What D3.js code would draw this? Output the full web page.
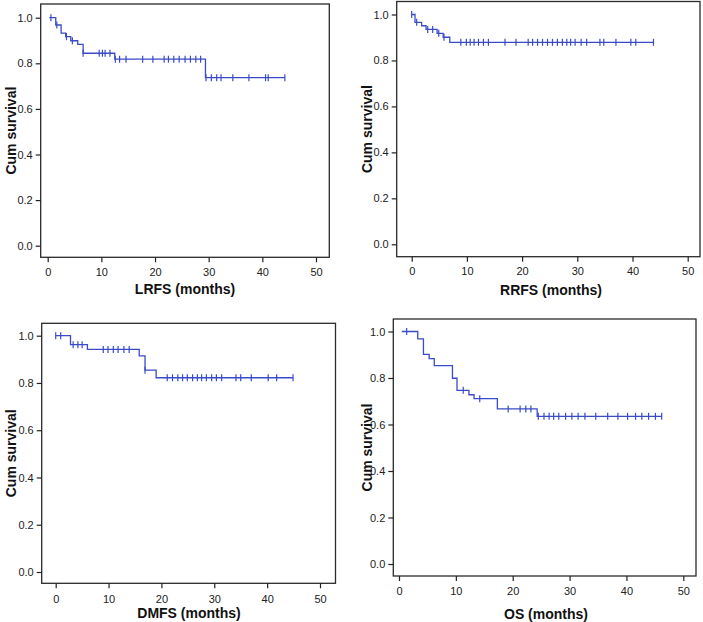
<!DOCTYPE html>
<html><head><meta charset="utf-8">
<script src="https://cdn.jsdelivr.net/npm/d3@7"></script>
<style>
body{margin:0;background:#fff;}
svg text{font-family:"Liberation Sans",Arial,sans-serif;}
</style></head>
<body><svg id="c" width="703" height="622"></svg>
<script>
// ---------- DATA ----------
const xTicks = [0, 10, 20, 30, 40, 50];
const yTicks = [0.0, 0.2, 0.4, 0.6, 0.8, 1.0];
const titles = ["LRFS (months)", "RRFS (months)", "DMFS (months)", "OS (months)"];
const yLabel = "Cum survival";

// step points: time at which the survival drops, and survival after the drop (first = start)
const lrfsStepT = [0.3, 1.5, 2.5, 3.35, 4.3, 5.6, 6.6, 12.5, 29.4];
const lrfsStepS = [1.0, 0.968, 0.932, 0.917, 0.899, 0.883, 0.844, 0.818, 0.737];
const lrfsEnd = 44.2;
const lrfsCensor = [0.6, 1.7, 3.5, 4.6, 6.6, 9.6, 10.2, 10.7, 11.6, 12.6, 13.4, 14.6, 17.7, 19.6, 21.7, 22.5, 23.5, 24.5, 25.6, 26.6, 27.6, 28.5, 29.5, 30.5, 31.5, 32.3, 34.5, 37.5, 40.6, 41.1, 44.2];

const rrfsStepT = [0.0, 0.6, 1.8, 2.6, 4.6, 5.7, 6.9];
const rrfsStepS = [1.0, 0.966, 0.951, 0.935, 0.918, 0.901, 0.879];
const rrfsEnd = 43.8;
const rrfsCensor = [0.0, 0.9, 2.9, 3.8, 4.9, 5.85, 8.9, 9.9, 10.6, 11.3, 12.1, 13.0, 13.9, 16.9, 18.9, 21.1, 21.9, 22.8, 23.7, 24.6, 25.5, 26.4, 27.3, 28.1, 28.8, 29.6, 30.7, 31.7, 34.1, 34.8, 37.0, 39.7, 40.6, 43.8];

const dmfsStepT = [0.0, 2.8, 6.0, 15.8, 16.9, 19.0];
const dmfsStepS = [1.0, 0.962, 0.942, 0.915, 0.854, 0.822];
const dmfsEnd = 44.9;
const dmfsCensor = [0.0, 0.95, 3.3, 4.2, 5.0, 9.0, 9.9, 10.9, 11.8, 12.9, 13.9, 16.9, 21.1, 22.1, 23.1, 24.0, 24.9, 25.9, 26.8, 27.6, 28.5, 29.5, 30.4, 31.4, 34.1, 35.0, 37.0, 40.2, 41.8, 44.9];

const osStepT = [0.5, 3.3, 4.3, 5.3, 6.2, 9.4, 10.2, 12.3, 13.2, 17.3, 24.3];
const osStepS = [1.0, 0.968, 0.902, 0.883, 0.853, 0.799, 0.747, 0.728, 0.711, 0.667, 0.635];
const osEnd = 46.2;
const osCensor = [1.35, 11.3, 14.2, 19.2, 21.3, 22.3, 23.2, 24.5, 25.5, 26.4, 27.2, 28.1, 29.3, 30.4, 31.5, 32.7, 34.6, 36.7, 38.5, 40.2, 41.6, 42.7, 43.9, 45.1, 46.2];

// ---------- LAYOUT ----------
const panels = [
  {stepT: lrfsStepT, stepS: lrfsStepS, end: lrfsEnd, censor: lrfsCensor, title: titles[0],
   box: {l: 40.7, r: 329.3, t: 4, b: 257.3}, xr: [47.7, 316], yr: [245.7, 17.7],
   tickBase: 276, titleX: 185, titleBase: 294, ylabX: 16},
  {stepT: rrfsStepT, stepS: rrfsStepS, end: rrfsEnd, censor: rrfsCensor, title: titles[1],
   box: {l: 396.7, r: 700, t: 1.5, b: 256.7}, xr: [411.7, 687.7], yr: [244.3, 14.5],
   tickBase: 275, titleX: 551, titleBase: 295, ylabX: 372},
  {stepT: dmfsStepT, stepS: dmfsStepS, end: dmfsEnd, censor: dmfsCensor, title: titles[2],
   box: {l: 41.7, r: 335.5, t: 323.3, b: 583.3}, xr: [55.7, 320], yr: [572, 335.7],
   tickBase: 603, titleX: 189, titleBase: 618, ylabX: 16},
  {stepT: osStepT, stepS: osStepS, end: osEnd, censor: osCensor, title: titles[3],
   box: {l: 393.3, r: 696, t: 319, b: 576}, xr: [399, 683.3], yr: [564, 331.5],
   tickBase: 595, titleX: 546, titleBase: 619, ylabX: 372}
];

const svg = d3.select("#c");
const blue = "#3a4bc9";

panels.forEach(p => {
  const x = d3.scaleLinear().domain([0, 50]).range(p.xr);
  const y = d3.scaleLinear().domain([0, 1]).range(p.yr);
  const g = svg.append("g");

  // frame
  g.append("rect").attr("x", p.box.l).attr("y", p.box.t)
    .attr("width", p.box.r - p.box.l).attr("height", p.box.b - p.box.t)
    .attr("fill", "none").attr("stroke", "#2a2a2a").attr("stroke-width", 1.3);

  // y axis
  const ya = d3.axisLeft(y).tickValues(yTicks).tickFormat(d3.format(".1f")).tickSize(5).tickPadding(3);
  const yg = g.append("g").attr("transform", `translate(${p.box.l},0)`).call(ya);
  yg.select(".domain").remove();
  yg.selectAll("line").attr("stroke", "#222").attr("stroke-width", 1.2);
  yg.selectAll("text").attr("font-size", 11).attr("fill", "#222")
    .attr("font-family", "Liberation Sans, Arial, sans-serif");

  // x axis
  const xa = d3.axisBottom(x).tickValues(xTicks).tickFormat(d3.format("d")).tickSize(5).tickPadding(6);
  const xg = g.append("g").attr("transform", `translate(0,${p.box.b})`).call(xa);
  xg.select(".domain").remove();
  xg.selectAll("line").attr("stroke", "#222").attr("stroke-width", 1.2);
  xg.selectAll("text").attr("font-size", 11).attr("fill", "#222")
    .attr("font-family", "Liberation Sans, Arial, sans-serif")
    .attr("dy", null).attr("y", p.tickBase - p.box.b);

  // titles
  g.append("text").attr("x", p.titleX).attr("y", p.titleBase).attr("text-anchor", "middle")
    .attr("font-size", 14).attr("font-weight", "bold").attr("fill", "#111").text(p.title);
  const cy = (p.box.t + p.box.b) / 2;
  g.append("text").attr("transform", `translate(${p.ylabX},${cy}) rotate(-90)`)
    .attr("text-anchor", "middle").attr("font-size", 14).attr("font-weight", "bold")
    .attr("fill", "#111").text(yLabel);

  // step curve
  const pts = [];
  p.stepT.forEach((t, i) => {
    if (i > 0) pts.push([t, p.stepS[i - 1]]);
    pts.push([t, p.stepS[i]]);
  });
  pts.push([p.end, p.stepS[p.stepS.length - 1]]);
  const line = d3.line().x(d => x(d[0])).y(d => y(d[1]));
  g.append("path").attr("d", line(pts)).attr("fill", "none")
    .attr("stroke", blue).attr("stroke-width", 1.3);

  // censor marks
  const survAt = t => {
    let s = p.stepS[0];
    p.stepT.forEach((st, i) => { if (st <= t + 1e-9) s = p.stepS[i]; });
    return s;
  };
  g.selectAll(".cm").data(p.censor).enter().append("line")
    .attr("x1", d => x(d)).attr("x2", d => x(d))
    .attr("y1", d => y(survAt(d)) - 3.5).attr("y2", d => y(survAt(d)) + 3.5)
    .attr("stroke", blue).attr("stroke-width", 1.2);
});
</script>
</body></html>
